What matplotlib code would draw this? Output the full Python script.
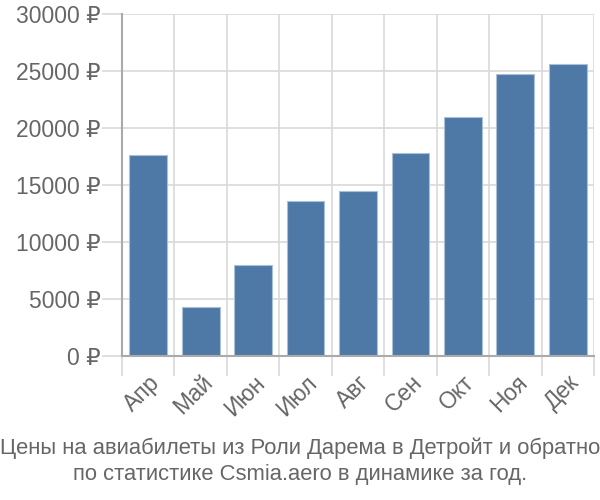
import matplotlib
matplotlib.use("Agg")
import matplotlib.pyplot as plt
import numpy as np

months = ["Апр", "Май", "Июн", "Июл", "Авг", "Сен", "Окт", "Ноя", "Дек"]
prices = [17600, 4250, 7980, 13550, 14490, 17830, 20960, 24690, 25600]
yticks = [0, 5000, 10000, 15000, 20000, 25000, 30000]
ytick_labels = [f"{v} ₽" for v in yticks]
title = "Цены на авиабилеты из Роли Дарема в Детройт и обратно\nпо статистике Csmia.aero в динамике за год."

plt.rcParams['font.family'] = ['Liberation Sans', 'DejaVu Sans']

fig = plt.figure(figsize=(6, 5), dpi=100)
ax = fig.add_axes([122/600, 1 - 355.7/500, (594-122)/600, (355.7-14)/500])

x = np.arange(len(months))
ax.bar(x, prices, width=0.72, color="#4e79a7", edgecolor="#a9c0d8", linewidth=0.8, zorder=3)

ax.set_xlim(-0.5, len(months) - 0.5)
ax.set_ylim(0, 30000)

grid_c = "#d9d9d9"
ax.set_yticks(yticks)
ax.set_yticklabels(ytick_labels)
ax.set_xticks(np.arange(-0.5, len(months), 1.0))
ax.set_xticklabels([])
ax.set_xticks(x, minor=True)
ax.set_xticklabels(months, minor=True, rotation=45, ha="right", rotation_mode="anchor")

ax.grid(True, which="major", color=grid_c, linewidth=1.2, zorder=0)
ax.tick_params(axis="both", which="major", length=14.4, color=grid_c, width=1.2,
               labelsize=16.5, labelcolor="#666666")
ax.tick_params(axis="y", pad=1)
ax.tick_params(axis="x", which="minor", length=0, pad=11, labelsize=16.5, labelcolor="#666666")

for s in ["top", "right"]:
    ax.spines[s].set_visible(False)
ax.spines["left"].set_color("#aaaaaa")
ax.spines["bottom"].set_color("#aaaaaa")
ax.spines["left"].set_linewidth(1.5)
ax.spines["bottom"].set_linewidth(1.5)
ax.spines["left"].set_zorder(4)
ax.spines["bottom"].set_zorder(4)

fig.text(0.5, 1 - 461/500, title, ha="center", va="center", fontsize=15.8,
         color="#666666", linespacing=1.3)

fig.savefig("out.png", dpi=100)
